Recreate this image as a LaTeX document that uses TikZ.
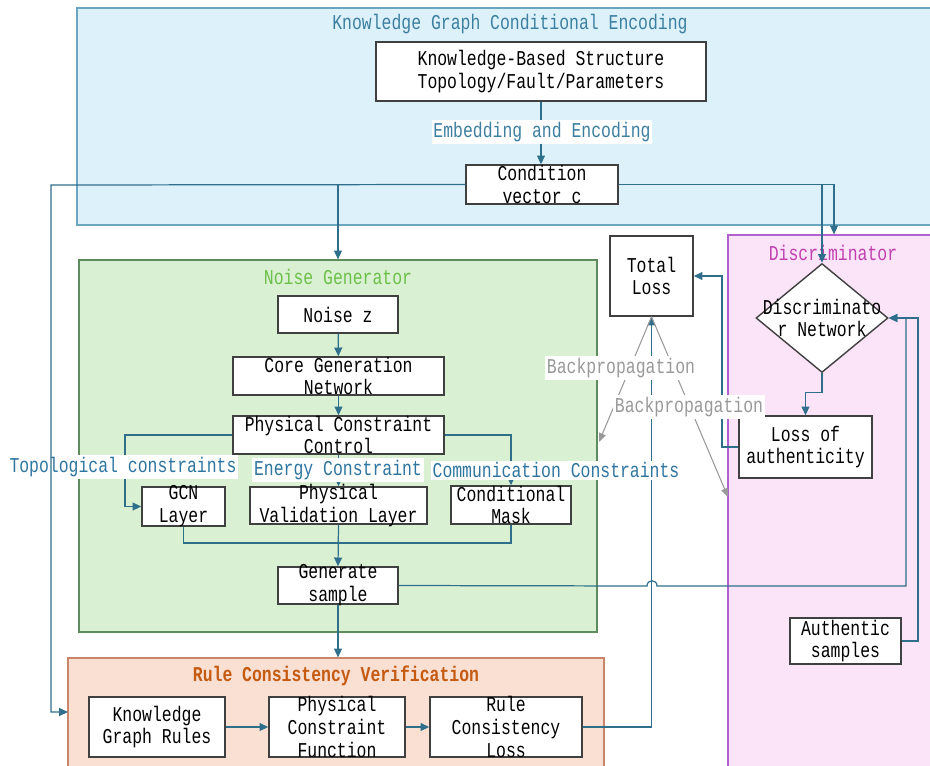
\documentclass[tikz,border=0pt]{standalone}
\usepackage{fontspec}
\setmainfont[FakeStretch=0.78]{Liberation Mono}
\usetikzlibrary{arrows.meta,shapes.geometric,fit}
\definecolor{conn}{HTML}{2F6F8C}
\definecolor{boxline}{HTML}{404040}
\definecolor{kgb}{HTML}{6AA6C0}
\definecolor{kgf}{HTML}{DDF1FA}
\definecolor{kgt}{HTML}{3C7FA0}
\definecolor{ngb}{HTML}{5E8C5E}
\definecolor{ngf}{HTML}{D9F0D2}
\definecolor{ngt}{HTML}{6CC04A}
\definecolor{dsb}{HTML}{B060D0}
\definecolor{dsf}{HTML}{FCE4F8}
\definecolor{dst}{HTML}{C040B0}
\definecolor{rcb}{HTML}{C8866A}
\definecolor{rcf}{HTML}{FADFD3}
\definecolor{rct}{HTML}{C55A11}
\definecolor{labc}{HTML}{2E75A0}
\definecolor{bpc}{HTML}{999999}
\begin{document}
\begin{tikzpicture}[x=0.02cm,y=-0.02cm,
  font=\fontsize{12}{13}\selectfont,
  frame/.style={draw, inner sep=0pt, line width=0.7pt},
  box/.style={draw=boxline, fill=white, inner sep=0pt, line width=0.8pt},
  txt/.style={align=center, inner sep=0pt},
  link/.style={draw=conn, line width=0.7pt},
  arr/.style={link, -{Triangle[length=5pt,width=4.5pt]}},
  lab/.style={fill=white, inner sep=1pt, text=labc},
  bp/.style={draw=bpc, line width=0.6pt, -{Triangle[length=5pt,width=4pt]}},
]
\useasboundingbox (0,0) rectangle (930,765);

% frames
\node[frame, draw=kgb, fill=kgf, fit={(77,8) (940,225)}] (kgc) {};
\node[text=kgt] (kgct) at (510,24) {Knowledge Graph Conditional Encoding};
\node[frame, draw=ngb, fill=ngf, fit={(79,260) (597,632)}] (ng) {};
\node[text=ngt] (ngt) at (338,277) {Noise Generator};
\node[frame, draw=dsb, fill=dsf, fit={(728,235) (940,775)}] (ds) {};
\node[text=dst] (dst) at (833,253) {Discriminator};
\node[frame, draw=rcb, fill=rcf, fit={(68,658) (604,775)}] (rc) {};
\node[text=rct, font=\fontsize{12}{13}\selectfont\bfseries] (rct) at (336,676) {Rule Consistency Verification};

% boxes
\node[box, fit={(376,42) (706,101)}] (kb) {};
\node[txt] (kbt) at (kb) {Knowledge-Based Structure\\Topology/Fault/Parameters};
\node[box, fit={(466,165) (618,204)}] (cond) {};
\node[txt] (condt) at (cond) {Condition\\vector c};
\node[box, fit={(610,236) (693,316)}] (tl) {};
\node[txt] (tlt) at (tl) {Total\\Loss};
\node[box, diamond, minimum width=2.64cm, minimum height=2.18cm] (dn) at (822,318) {};
\node[txt] (dnt) at (dn) {Discriminato\\r Network};
\node[box, fit={(739,416) (872,478)}] (la) {};
\node[txt] (lat) at (la) {Loss of\\authenticity};
\node[box, fit={(278,296) (398,333)}] (nz) {};
\node[txt] (nzt) at (nz) {Noise z};
\node[box, fit={(233,357) (444,395)}] (cg) {};
\node[txt] (cgt) at (cg) {Core Generation\\Network};
\node[box, fit={(233,416) (444,454)}] (pc) {};
\node[txt] (pct) at (pc) {Physical Constraint\\Control};
\node[box, fit={(142,487) (225,526)}] (gcn) {};
\node[txt] (gcnt) at (gcn) {GCN\\Layer};
\node[box, fit={(250,487) (427,524)}] (pv) {};
\node[txt] (pvt) at (pv) {Physical\\Validation Layer};
\node[box, fit={(451,486) (571,524)}] (cm) {};
\node[txt] (cmt) at (cm) {Conditional\\Mask};
\node[box, fit={(278,567) (398,604)}] (gs) {};
\node[txt] (gst) at (gs) {Generate\\sample};
\node[box, fit={(790,618) (901,664)}] (au) {};
\node[txt] (aut) at (au) {Authentic\\samples};
\node[box, fit={(89,697) (225,757)}] (kg) {};
\node[txt] (kgt) at (kg) {Knowledge\\Graph Rules};
\node[box, fit={(269,697) (405,757)}] (pf) {};
\node[txt] (pft) at (pf) {Physical\\Constraint\\Function};
\node[box, fit={(430,697) (582,757)}] (rl) {};
\node[txt] (rlt) at (rl) {Rule\\Consistency\\Loss};

\coordinate (rin) at (68,712);
\coordinate (bpa) at (599,442);
\coordinate (bpb) at (728,497);

% connectors
\draw[arr] (kb.south) -- (kb.south |- cond.north);
\draw[arr] (cond.west) -| (ng.north);
\draw[arr] (cond.east) -| (dn.north);
\draw[arr] (cond.east) -| (ds.north);
\draw[arr] (dn.south) -- ++(0,19) -| (la.north);
\draw[arr] (la.west) -- (722,447) |- (tl.east);
\draw[arr] (nz) -- (cg);
\draw[arr] (cg) -- (pc);
\draw[arr] (pc.west) -- (125,435) |- (gcn.west);
\draw[arr] (pc.south) -- (pv.north);
\draw[arr] (pc.east) -| (cm.north);
\draw[link] (gcn.south) |- (338,543);
\draw[link] (cm.south) |- (338,543);
\draw[arr] (pv.south) -- (gs.north);
\draw[arr] (gs.south) -- (gs.south |- rc.north);
\draw[arr] (gs.east) -- (647,586) .. controls (647,579) and (657,579) .. (657,586) -- (906,586) -- (906,318) -- (dn.east);
\draw[arr] (au.east) -- (918,641) -- (918,318) -- (dn.east);
\draw[arr] (kg) -- (pf);
\draw[arr] (pf) -- (rl);
\draw[arr] (rl.east) -| (tl.south);
\draw[bp] (tl.south) -- (bpa);
\draw[bp] (tl.south) -- (bpb);

% labels
\node[lab, text=kgt] (emb) at (542,132) {Embedding and Encoding};
\node[lab] (topo) at (123,467) {Topological constraints};
\node[lab] (energy) at (338,470) {Energy Constraint};
\node[lab] (comm) at (556,470) {Communication Constraints};
\node[lab, text=bpc] (bp1) at (621,368) {Backpropagation};
\node[lab, text=bpc] (bp2) at (689,407) {Backpropagation};

\draw[arr] (cond.west) -- (51,185) -- (51,712) -- (rin);
\end{tikzpicture}
\end{document}
